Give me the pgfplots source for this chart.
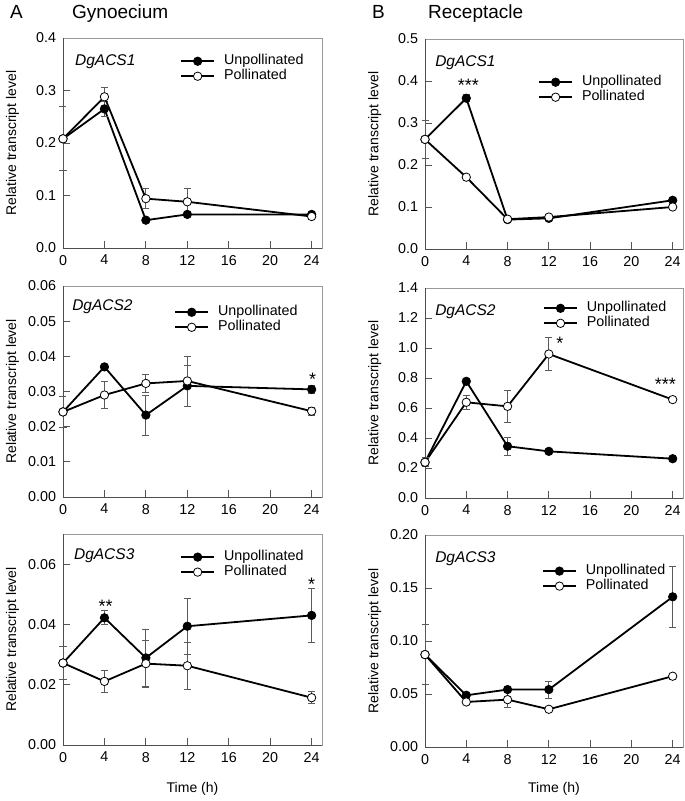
\documentclass[border=0pt]{standalone}
\usepackage{fontspec}
\setmainfont{Liberation Sans}
\usepackage{pgfplots}
\usepackage{pgfplotstable}
\pgfplotsset{compat=1.18}
\definecolor{framelight}{HTML}{999999}
\definecolor{framedark}{HTML}{4D4D4D}
\definecolor{tickgray}{HTML}{555555}
\definecolor{errgray}{HTML}{5A5A5A}

\pgfplotstableread{
t u ue p pe
0 0.208 0.000 0.208 0.061
4 0.265 0.015 0.288 0.017
8 0.053 0.004 0.094 0.019
12 0.064 0.004 0.088 0.025
24 0.064 0.002 0.060 0.003
}\tAone
\pgfplotstableread{
t u ue p pe
0 0.261 0.000 0.261 0.045
4 0.359 0.008 0.171 0.005
8 0.070 0.004 0.071 0.003
12 0.073 0.005 0.076 0.006
24 0.116 0.004 0.100 0.004
}\tBone
\pgfplotstableread{
t u ue p pe
0 0.0242 0.0000 0.0242 0.0043
4 0.0370 0.0008 0.0290 0.0038
8 0.0233 0.0057 0.0323 0.0025
12 0.0316 0.0057 0.0330 0.0071
24 0.0306 0.0010 0.0244 0.0011
}\tAtwo
\pgfplotstableread{
t u ue p pe
0 0.238 0.000 0.238 0.030
4 0.778 0.015 0.638 0.047
8 0.345 0.060 0.611 0.107
12 0.311 0.010 0.960 0.111
24 0.262 0.010 0.656 0.010
}\tBtwo
\pgfplotstableread{
t u ue p pe
0 0.0272 0.0000 0.0272 0.0054
4 0.0422 0.0023 0.0211 0.0036
8 0.0289 0.0095 0.0270 0.0078
12 0.0394 0.0093 0.0263 0.0078
24 0.0430 0.0090 0.0157 0.0020
}\tAthree
\pgfplotstableread{
t u ue p pe
0 0.0872 0.000 0.0872 0.028
4 0.0488 0.002 0.0425 0.002
8 0.0542 0.002 0.0447 0.007
12 0.0542 0.008 0.0356 0.002
24 0.1417 0.0285 0.0668 0.003
}\tBthree

\pgfplotsset{
  myax/.style={
    scale only axis, clip=false,
    xmin=0, xmax=25, xtick={0,4,...,24},
    scaled y ticks=false, scaled x ticks=false,
    tick align=inside, xtick pos=bottom, ytick pos=left,
    major tick length=7bp,
    tick style={draw=tickgray, line width=0.8bp},
    axis line style={draw=framelight, line width=0.9bp},
    /pgf/number format/assume math mode=true,
    ticklabel style={font=\fontsize{14.3bp}{16bp}\selectfont},
    xticklabel style={yshift=-3.5bp},
    yticklabel style={xshift=-3.5bp},
    label style={font=\fontsize{14bp}{16bp}\selectfont},
    ylabel={Relative transcript level},
    ylabel style={at={(axis description cs:-0.195,0.5)}, anchor=center},
    legend cell align=left,
    legend image code/.code={\draw[mark repeat=2,mark phase=2,##1] plot coordinates {(0bp,0bp) (16.5bp,0bp) (33bp,0bp)};},
    legend style={draw=none, fill=none, inner sep=0pt, anchor=north west,
      font=\fontsize{14.3bp}{16bp}\selectfont,
      row sep=0pt,
      nodes={inner sep=1bp, text height=10bp, text depth=3bp},
      /tikz/every odd column/.append style={column sep=8bp}},
  },
  unp/.style={black, line width=1.8bp, mark=*, mark size=4.2bp,
    mark options={solid, fill=black, line width=0.8bp},
    error bars/.cd, y dir=both, y explicit,
    error bar style={draw=errgray, line width=0.8bp},
    error mark options={rotate=90, mark size=3.5bp, draw=errgray, line width=0.8bp}},
  pol/.style={black, line width=1.8bp, mark=*, mark size=4.2bp,
    mark options={solid, fill=white, line width=0.8bp},
    error bars/.cd, y dir=both, y explicit,
    error bar style={draw=errgray, line width=0.8bp},
    error mark options={rotate=90, mark size=3.5bp, draw=errgray, line width=0.8bp}},
  fmtone/.style={yticklabel style={/pgf/number format/fixed, /pgf/number format/fixed zerofill, /pgf/number format/precision=1}},
  fmttwo/.style={yticklabel style={/pgf/number format/fixed, /pgf/number format/fixed zerofill, /pgf/number format/precision=2}},
}
\newcommand{\darkframe}{\draw[framedark, line width=0.9bp] (rel axis cs:0,1) -- (rel axis cs:0,0) -- (rel axis cs:1,0);}
\newcommand{\gene}[3]{\node[anchor=base west, inner sep=0pt, font=\fontsize{15.5bp}{18bp}\selectfont\itshape] at (axis description cs:#1,#2) {#3};}
\newcommand{\stars}[3]{\node[anchor=center, inner sep=0pt, yshift=-4bp, font=\fontsize{18bp}{20bp}\selectfont] at (axis cs:#1,#2) {#3};}

\begin{document}
\begin{tikzpicture}
\path[use as bounding box] (0,0) rectangle (685bp,-801bp);
\node[anchor=base west, inner sep=0pt, font=\fontsize{19bp}{22bp}\selectfont] at (10bp,-18bp) {A};
\node[anchor=base west, inner sep=0pt, font=\fontsize{19bp}{22bp}\selectfont] at (72bp,-18bp) {Gynoecium};
\node[anchor=base west, inner sep=0pt, font=\fontsize{19bp}{22bp}\selectfont] at (372bp,-18bp) {B};
\node[anchor=base west, inner sep=0pt, font=\fontsize{19bp}{22bp}\selectfont] at (428bp,-18bp) {Receptacle};

% A1
\begin{axis}[myax, fmtone, at={(63bp,-248bp)}, anchor=south west, width=259bp, height=210bp,
  ymin=0, ymax=0.4, ytick={0,0.1,...,0.4},
  legend style={at={(axis description cs:0.452,0.926)}}]
\darkframe
\addplot[unp] table[x=t, y=u, y error=ue] {\tAone};
\addplot[pol] table[x=t, y=p, y error=pe] {\tAone};
\legend{Unpollinated, Pollinated}
\gene{0.046}{0.871}{DgACS1}
\end{axis}

% B1
\begin{axis}[myax, fmtone, at={(425bp,-249bp)}, anchor=south west, width=258bp, height=210bp,
  ymin=0, ymax=0.5, ytick={0,0.1,...,0.5},
  legend style={at={(axis description cs:0.438,0.831)}}]
\darkframe
\addplot[unp] table[x=t, y=u, y error=ue] {\tBone};
\addplot[pol] table[x=t, y=p, y error=pe] {\tBone};
\legend{Unpollinated, Pollinated}
\gene{0.039}{0.871}{DgACS1}
\stars{4.2}{0.399}{***}
\end{axis}

% A2
\begin{axis}[myax, fmttwo, at={(63bp,-497bp)}, anchor=south west, width=259bp, height=211bp,
  ymin=0, ymax=0.06, ytick={0,0.01,0.02,0.03,0.04,0.05,0.06},
  legend style={at={(axis description cs:0.429,0.912)}}]
\darkframe
\addplot[unp] table[x=t, y=u, y error=ue] {\tAtwo};
\addplot[pol] table[x=t, y=p, y error=pe] {\tAtwo};
\legend{Unpollinated, Pollinated}
\gene{0.035}{0.882}{DgACS2}
\stars{24.1}{0.0347}{*}
\end{axis}

% B2
\begin{axis}[myax, fmtone, at={(425bp,-498bp)}, anchor=south west, width=258bp, height=210bp,
  ymin=0, ymax=1.4, ytick={0,0.2,0.4,0.6,0.8,1.0,1.2,1.4},
  legend style={at={(axis description cs:0.457,0.940)}}]
\darkframe
\addplot[unp] table[x=t, y=u, y error=ue] {\tBtwo};
\addplot[pol] table[x=t, y=p, y error=pe] {\tBtwo};
\legend{Unpollinated, Pollinated}
\gene{0.039}{0.871}{DgACS2}
\stars{13.07}{1.056}{*}
\stars{23.3}{0.784}{***}
\end{axis}

% A3
\begin{axis}[myax, fmttwo, at={(63bp,-745bp)}, anchor=south west, width=259bp, height=211bp,
  ymin=0, ymax=0.07, ytick={0,0.02,0.04,0.06},
  xlabel={Time (h)}, xlabel style={at={(axis description cs:0.5,0)}, anchor=center, yshift=-44bp},
  legend style={at={(axis description cs:0.452,0.927)}}]
\darkframe
\addplot[unp] table[x=t, y=u, y error=ue] {\tAthree};
\addplot[pol] table[x=t, y=p, y error=pe] {\tAthree};
\legend{Unpollinated, Pollinated}
\gene{0.042}{0.877}{DgACS3}
\stars{4.12}{0.0472}{**}
\stars{24}{0.0548}{*}
\end{axis}

% B3
\begin{axis}[myax, fmttwo, at={(425bp,-747bp)}, anchor=south west, width=258bp, height=212bp,
  ymin=0, ymax=0.2, ytick={0,0.05,0.10,0.15,0.20},
  xlabel={Time (h)}, xlabel style={at={(axis description cs:0.5,0)}, anchor=center, yshift=-42bp},
  legend style={at={(axis description cs:0.453,0.866)}}]
\darkframe
\addplot[unp] table[x=t, y=u, y error=ue] {\tBthree};
\addplot[pol] table[x=t, y=p, y error=pe] {\tBthree};
\legend{Unpollinated, Pollinated}
\gene{0.039}{0.868}{DgACS3}
\end{axis}
\end{tikzpicture}
\end{document}
